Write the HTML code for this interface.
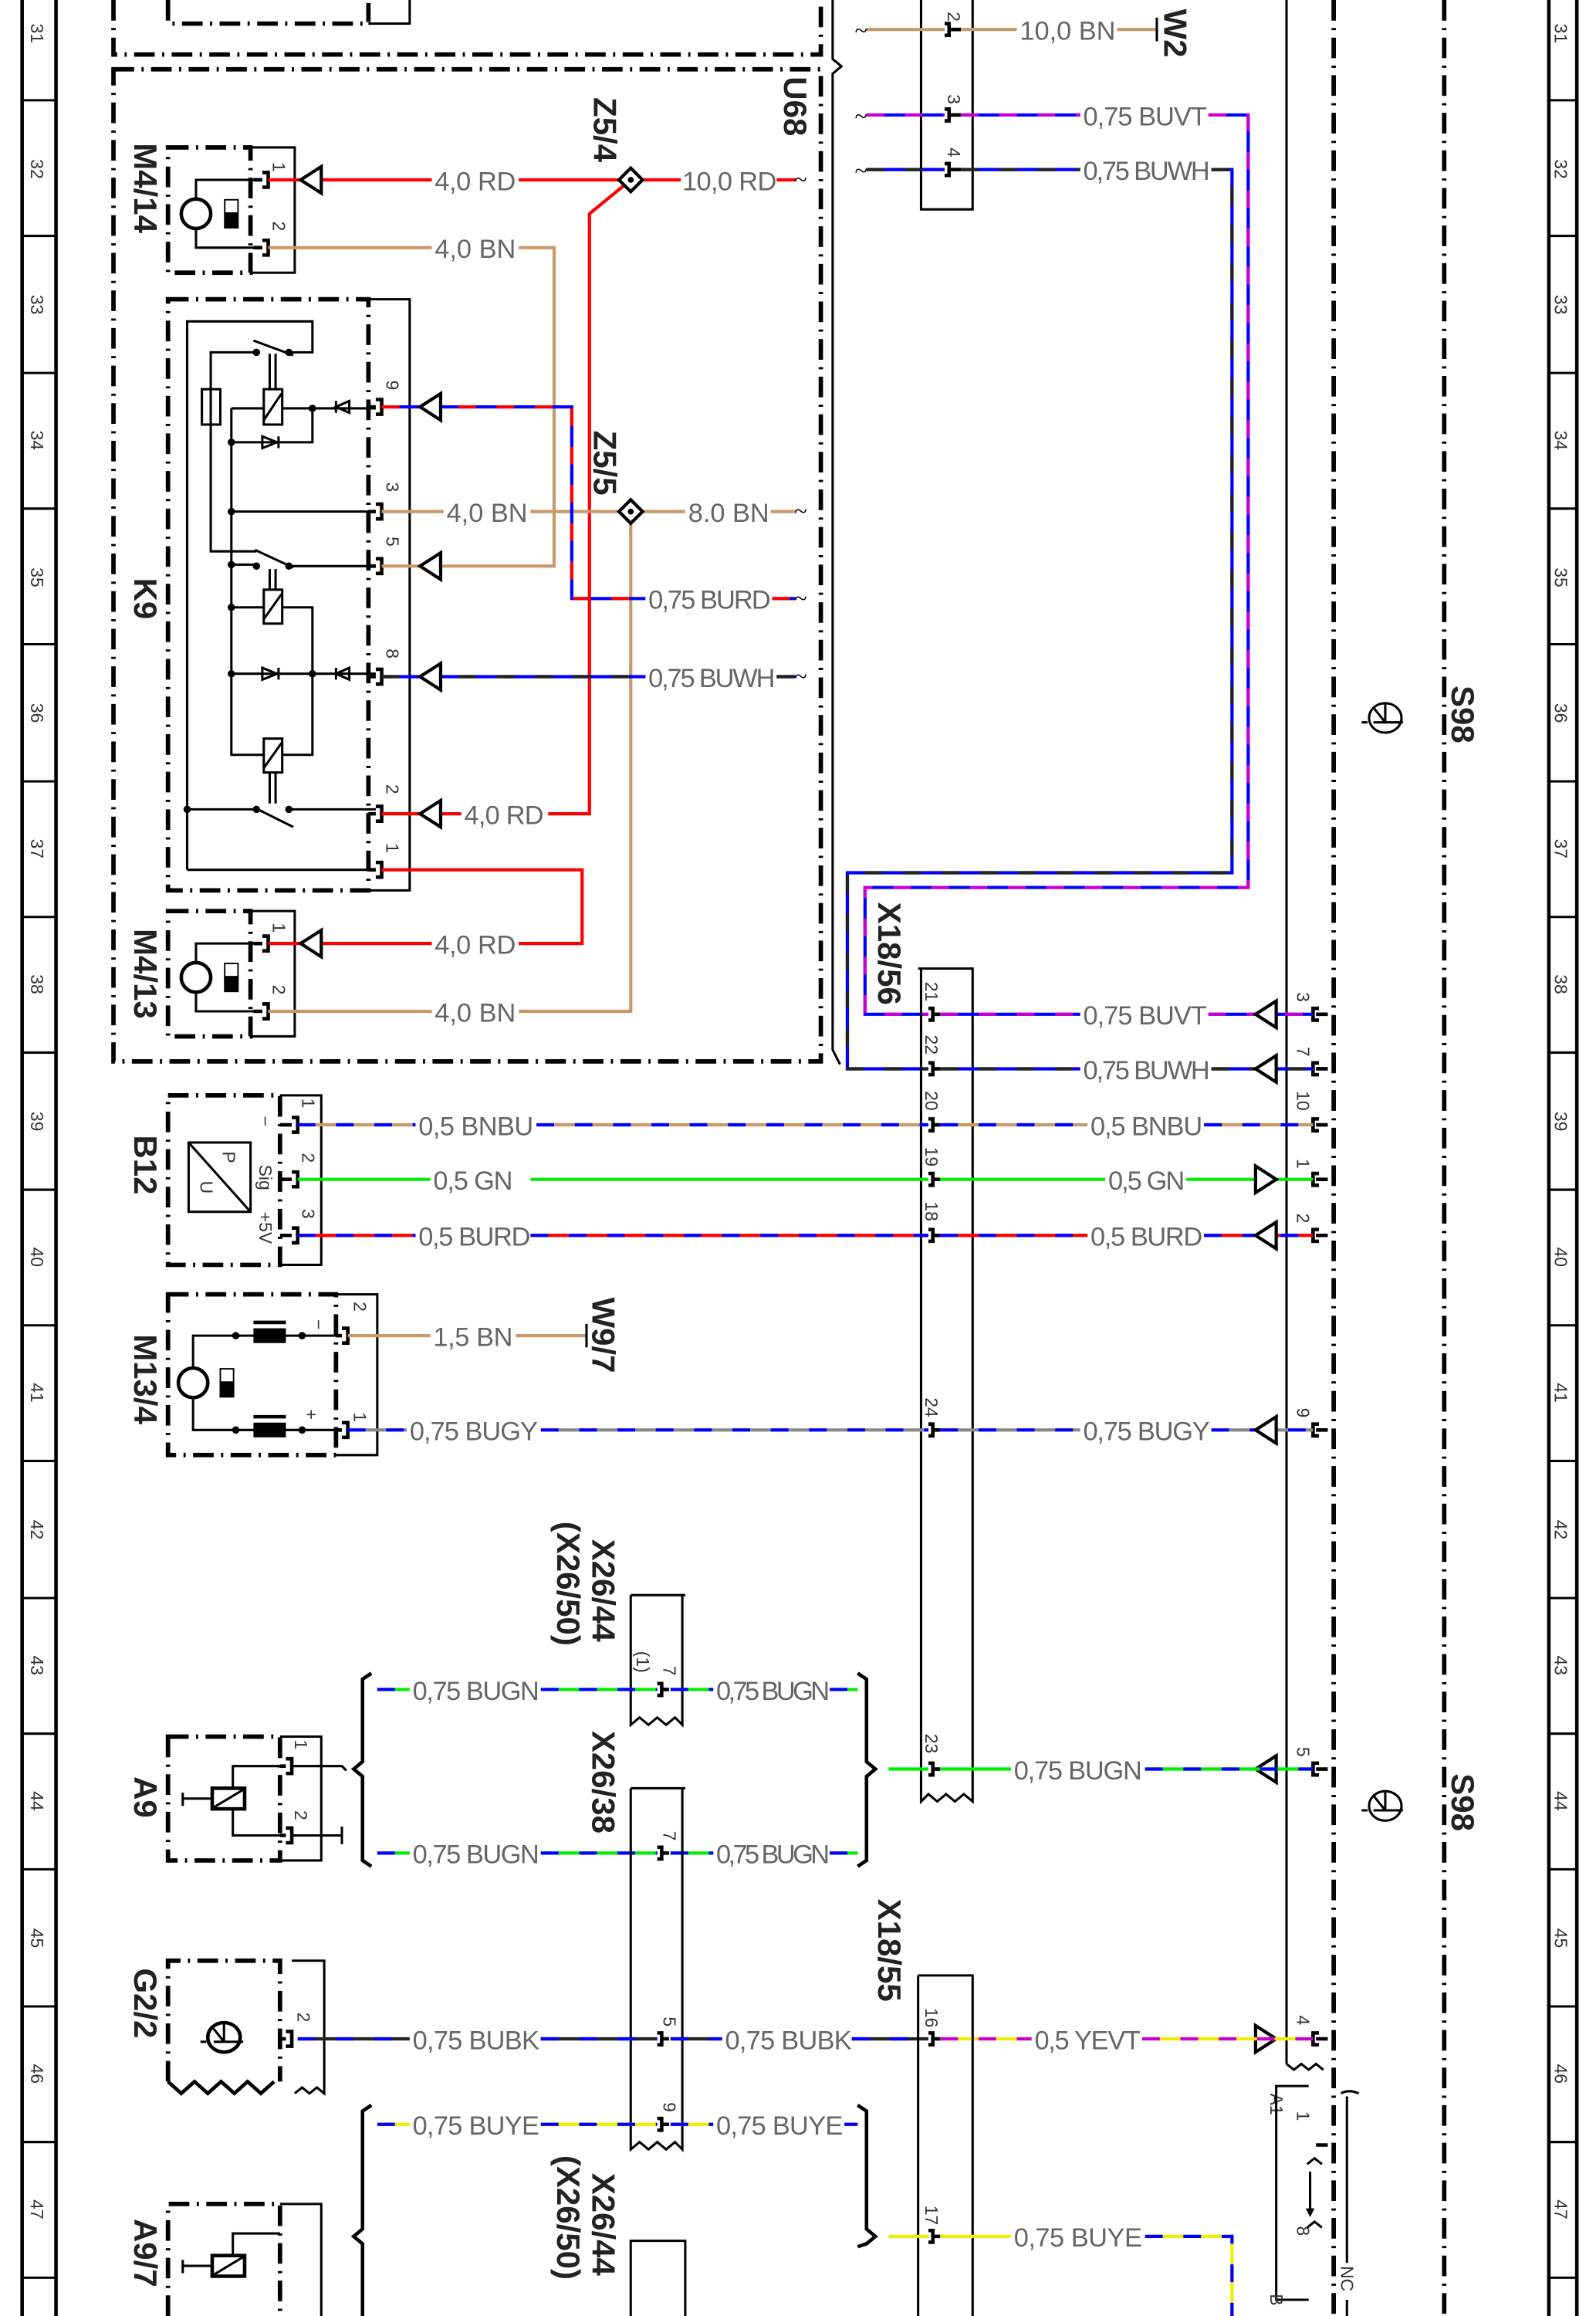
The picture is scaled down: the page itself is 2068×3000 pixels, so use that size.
<!DOCTYPE html>
<html><head><meta charset="utf-8"><style>
html,body{margin:0;padding:0;background:#fff;}
svg{display:block}
.k{stroke:#000;stroke-width:1.6;fill:none}
.kt{stroke:#000;stroke-width:2.4;fill:none}
.dd{stroke:#000;stroke-width:3;fill:none;stroke-dasharray:14 5 1.5 5}
.w{fill:none;stroke-width:2.2}
.ov{fill:none;stroke-width:2.2;stroke-dasharray:12 14}
.RD{stroke:#f00}.BN{stroke:#c9996b}.BU{stroke:#00f}.VT{stroke:#c0c}.GN{stroke:#0e0}.YE{stroke:#ee0}.GY{stroke:#888}.BK{stroke:#222}
.l{font-family:"Liberation Sans",sans-serif;font-size:18px;fill:#666}
.n{font-family:"Liberation Sans",sans-serif;font-size:12px;fill:#333}
.c{font-family:"Liberation Sans",sans-serif;font-size:22px;font-weight:bold;fill:#222}
.tri{fill:#fff;stroke:#000;stroke-width:2.2}
</style></head><body>
<svg width="2068" height="3000" viewBox="0 0 1083 1571" preserveAspectRatio="none" xmlns="http://www.w3.org/2000/svg">
<g class="kt">
<line x1="15" y1="0" x2="15" y2="1571"/><line x1="38" y1="0" x2="38" y2="1571"/>
<line x1="1051" y1="0" x2="1051" y2="1571"/><line x1="1070" y1="0" x2="1070" y2="1571"/>
</g>
<g class="k">
<path d="M15 68H38M15 160H38M15 253H38M15 345H38M15 437H38M15 530H38M15 622H38M15 714H38M15 807H38M15 899H38M15 991H38M15 1084H38M15 1176H38M15 1268H38M15 1361H38M15 1453H38M15 1545H38"/>
<path d="M1051 68H1070M1051 160H1070M1051 253H1070M1051 345H1070M1051 437H1070M1051 530H1070M1051 622H1070M1051 714H1070M1051 807H1070M1051 899H1070M1051 991H1070M1051 1084H1070M1051 1176H1070M1051 1268H1070M1051 1361H1070M1051 1453H1070M1051 1545H1070"/>
</g>
<g class="n" font-size="13">
<text transform="translate(21,16) rotate(90)">31</text><text transform="translate(21,108) rotate(90)">32</text><text transform="translate(21,200) rotate(90)">33</text><text transform="translate(21,292) rotate(90)">34</text><text transform="translate(21,385) rotate(90)">35</text><text transform="translate(21,477) rotate(90)">36</text><text transform="translate(21,569) rotate(90)">37</text><text transform="translate(21,661) rotate(90)">38</text><text transform="translate(21,754) rotate(90)">39</text><text transform="translate(21,846) rotate(90)">40</text><text transform="translate(21,938) rotate(90)">41</text><text transform="translate(21,1031) rotate(90)">42</text><text transform="translate(21,1123) rotate(90)">43</text><text transform="translate(21,1215) rotate(90)">44</text><text transform="translate(21,1308) rotate(90)">45</text><text transform="translate(21,1400) rotate(90)">46</text><text transform="translate(21,1492) rotate(90)">47</text>
<text transform="translate(1055,16) rotate(90)">31</text><text transform="translate(1055,108) rotate(90)">32</text><text transform="translate(1055,200) rotate(90)">33</text><text transform="translate(1055,292) rotate(90)">34</text><text transform="translate(1055,385) rotate(90)">35</text><text transform="translate(1055,477) rotate(90)">36</text><text transform="translate(1055,569) rotate(90)">37</text><text transform="translate(1055,661) rotate(90)">38</text><text transform="translate(1055,754) rotate(90)">39</text><text transform="translate(1055,846) rotate(90)">40</text><text transform="translate(1055,938) rotate(90)">41</text><text transform="translate(1055,1031) rotate(90)">42</text><text transform="translate(1055,1123) rotate(90)">43</text><text transform="translate(1055,1215) rotate(90)">44</text><text transform="translate(1055,1308) rotate(90)">45</text><text transform="translate(1055,1400) rotate(90)">46</text><text transform="translate(1055,1492) rotate(90)">47</text>
</g>
<line class="dd" x1="905" y1="0" x2="905" y2="1571"/>
<line class="dd" x1="980" y1="0" x2="980" y2="1571"/>
<line class="k" x1="873" y1="0" x2="873" y2="1400"/>
<path class="k" d="M873 1400 l5 4 l5 -4 l5 4 l5 -4 l5 4"/>
<path class="dd" d="M77 0V37H557V0"/>
<path class="dd" d="M114 0V16H250V2"/>
<path class="k" d="M250 16H278V0"/>
<path class="dd" d="M77 47H557V720H77Z"/>
<path class="k" d="M565 0V40l6 5l-6 5V712l5 10"/>
<text class="c" transform="translate(532,52) rotate(90)">U68</text>
<path class="k" d="M625 0V142H660V0"/>
<text class="n" transform="translate(643,8) rotate(90)">2</text><text class="n" transform="translate(643,64) rotate(90)">3</text><text class="n" transform="translate(643,100) rotate(90)">4</text>
<path class="kt" d="M644 20h8M641 16h3v8h-3M644 78h8M641 74h3v8h-3M644 115h8M641 111h3v8h-3"/>
<line class="w BN" x1="588" y1="20" x2="641" y2="20"/><line class="w BN" x1="652" y1="20" x2="690" y2="20"/><line class="w BN" x1="758" y1="20" x2="785" y2="20"/>
<path class="k" d="M785 12V28"/><text class="c" transform="translate(790,6) rotate(90)">W2</text>
<path class="w BU" d="M588 78H641M652 78H733M820 78H847V602H587V688H630"/><path class="ov VT" d="M588 78H641M652 78H733M820 78H847V602H587V688H630"/>
<path class="w BU" d="M588 115H641M652 115H733M822 115H836V592H575V725H630"/><path class="ov BK" d="M588 115H641M652 115H733M822 115H836V592H575V725H630"/>
<text class="l" x="692" y="27" textLength="65">10,0 BN</text>
<text class="l" x="735" y="85" textLength="84">0,75 BUVT</text>
<text class="l" x="735" y="122" textLength="86">0,75 BUWH</text>
<text x="580" y="26" font-size="16">~</text><text x="580" y="84" font-size="16">~</text><text x="580" y="121" font-size="16">~</text>
<rect class="dd" x="114" y="100" width="56" height="85"/>
<path class="k" d="M170 100H200V185H170"/>
<circle class="kt" cx="133" cy="145" r="10"/><rect x="152" y="135" width="10" height="20" fill="#000"/><rect x="153" y="136" width="8" height="8" fill="#fff"/>
<path class="k" d="M133 135V122H178M133 155V168H178"/>
<path class="kt" d="M172 122h6M178 117h4v10h-4M172 168h6M178 163h4v10h-4"/>
<text class="n" transform="translate(185,110) rotate(90)">1</text><text class="n" transform="translate(185,150) rotate(90)">2</text>
<text class="c" transform="translate(91,97) rotate(90)">M4/14</text>
<rect class="dd" x="114" y="203" width="136" height="401"/>
<path class="k" d="M250 203H278V604H250"/>
<g class="k" stroke-width="1.8">
<path d="M127 590V218H212V239H196M174 239H143V374H174"/>
<path d="M172 231L199 241M173 373L199 385M173 548L199 561"/>
<rect x="137" y="264" width="12.5" height="24"/>
<rect x="179" y="264" width="12.5" height="24"/><path d="M179 285L191 267"/>
<rect x="179" y="400" width="12.5" height="23"/><path d="M179 420L191 403"/>
<rect x="179" y="501" width="12.5" height="23"/><path d="M179 521L191 504"/>
<path d="M157 277V512H179M191 512H212V412H191M179 412H157M157 277H179M191 277H255M157 300H212V277M157 347H255M157 383H174M196 384H255M157 457H255M127 549H174M196 549H255M127 590H255"/>
<path d="M183 264V240M187 264V240M183 400V386M187 400V386M183 524V545M187 524V545"/>
<path d="M178 296L188 300L178 304ZM189 296V304M178 453L188 457L178 461ZM189 453V461M237 272L228 276L237 280ZM228 272V280M237 453L228 457L237 461ZM228 453V461"/>
</g>
<g fill="#000"><circle cx="174" cy="239" r="2.5"/><circle cx="196" cy="239" r="2.5"/><circle cx="212" cy="277" r="2.5"/><circle cx="157" cy="300" r="2.5"/><circle cx="157" cy="347" r="2.5"/><circle cx="157" cy="383" r="2.5"/><circle cx="174" cy="384" r="2.5"/><circle cx="196" cy="384" r="2.5"/><circle cx="157" cy="412" r="2.5"/><circle cx="157" cy="457" r="2.5"/><circle cx="212" cy="457" r="2.5"/><circle cx="127" cy="549" r="2.5"/><circle cx="174" cy="549" r="2.5"/><circle cx="196" cy="549" r="2.5"/></g>
<path class="kt" d="M250 276h5M255 271h4v10h-4M250 347h5M255 342h4v10h-4M250 384h5M255 379h4v10h-4M250 459h5M255 454h4v10h-4M250 552h5M255 547h4v10h-4M250 590h5M255 585h4v10h-4"/>
<text class="n" transform="translate(262,258) rotate(90)">9</text><text class="n" transform="translate(262,327) rotate(90)">3</text><text class="n" transform="translate(262,364) rotate(90)">5</text><text class="n" transform="translate(262,440) rotate(90)">8</text><text class="n" transform="translate(262,532) rotate(90)">2</text><text class="n" transform="translate(262,572) rotate(90)">1</text>
<text class="c" transform="translate(91,392) rotate(90)">K9</text>
<rect class="dd" x="114" y="618" width="56" height="85"/>
<path class="k" d="M170 618H200V703H170"/>
<circle class="kt" cx="133" cy="663" r="10"/><rect x="152" y="653" width="10" height="20" fill="#000"/><rect x="153" y="654" width="8" height="8" fill="#fff"/>
<path class="k" d="M133 653V640H178M133 673V686H178"/>
<path class="kt" d="M172 640h6M178 635h4v10h-4M172 686h6M178 681h4v10h-4"/>
<text class="n" transform="translate(185,626) rotate(90)">1</text><text class="n" transform="translate(185,668) rotate(90)">2</text>
<text class="c" transform="translate(91,630) rotate(90)">M4/13</text>
<path class="w RD" d="M182 122H293M352 122H462M527 122H540M428 122L400 145V552H372M259 552H313M259 590H395V640H352M182 640H293"/>
<path class="w BN" d="M182 168H293M352 168H376V384H259M259 347H301M360 347H465M523 347H540M182 686H293M352 686H428V347"/>
<path class="w BU" d="M259 276H388V406H438M524 406H540"/><path class="ov RD" d="M259 276H388V406H438M524 406H540"/>
<path class="w BU" d="M259 459H438M527 459H540"/><path class="ov BK" d="M259 459H438M527 459H540" stroke-dasharray="30 40"/>
<text font-size="16" x="539" y="127">~</text><text font-size="16" x="539" y="352">~</text><text font-size="16" x="539" y="411">~</text><text font-size="16" x="539" y="464">~</text>
<path d="M428 114L436 122L428 130L420 122Z" fill="#fff" stroke="#000" stroke-width="2.2"/><circle cx="428" cy="122" r="2" fill="#000"/>
<path d="M428 339L436 347L428 355L420 347Z" fill="#fff" stroke="#000" stroke-width="2.2"/><circle cx="428" cy="347" r="2" fill="#000"/>
<text class="c" transform="translate(403,66) rotate(90)">Z5/4</text>
<text class="c" transform="translate(403,292) rotate(90)">Z5/5</text>
<text class="l" x="295" y="129" textLength="55">4,0 RD</text><text class="l" x="463" y="129" textLength="64">10,0 RD</text>
<text class="l" x="295" y="175" textLength="55">4,0 BN</text>
<text class="l" x="303" y="354" textLength="55">4,0 BN</text><text class="l" x="467" y="354" textLength="55">8.0 BN</text>
<text class="l" x="440" y="413" textLength="83">0,75 BURD</text>
<text class="l" x="440" y="466" textLength="86">0,75 BUWH</text>
<text class="l" x="315" y="559" textLength="54">4,0 RD</text>
<text class="l" x="295" y="647" textLength="55">4,0 RD</text>
<text class="l" x="295" y="693" textLength="55">4,0 BN</text>
<g class="tri"><polygon points="204,122 218,113 218,131"/><polygon points="285,276 299,267 299,285"/><polygon points="285,384 299,375 299,393"/><polygon points="285,459 299,450 299,468"/><polygon points="285,552 299,543 299,561"/><polygon points="204,640 218,631 218,649"/></g>
<path class="k" d="M623 657H660V1222l-6 -5l-6 5l-6 -5l-6 5l-6 -5l-5 5V657"/>
<text class="c" transform="translate(596,612) rotate(90)">X18/56</text>
<g class="n"><text transform="translate(628,666) rotate(90)">21</text><text transform="translate(628,702) rotate(90)">22</text><text transform="translate(628,740) rotate(90)">20</text><text transform="translate(628,778) rotate(90)">19</text><text transform="translate(628,815) rotate(90)">18</text><text transform="translate(628,948) rotate(90)">24</text><text transform="translate(628,1176) rotate(90)">23</text></g>
<path class="kt" d="M630 684h3v8h-3M633 688h5M630 721h3v8h-3M633 725h5M630 759h3v8h-3M633 763h5M630 796h3v8h-3M633 800h5M630 834h3v8h-3M633 838h5M630 966h3v8h-3M633 970h5M630 1196h3v8h-3M633 1200h5"/>
<path class="kt" d="M895 684h-4v8h4M893 688h8M895 721h-4v8h4M893 725h8M895 759h-4v8h4M893 763h8M895 796h-4v8h4M893 800h8M895 834h-4v8h4M893 838h8M895 966h-4v8h4M893 970h8M895 1196h-4v8h4M893 1200h8M895 1379h-4v8h4M893 1383h8"/>
<g class="n"><text transform="translate(880,673) rotate(90)">3</text><text transform="translate(880,710) rotate(90)">7</text><text transform="translate(880,740) rotate(90)">10</text><text transform="translate(880,786) rotate(90)">1</text><text transform="translate(880,823) rotate(90)">2</text><text transform="translate(880,955) rotate(90)">9</text><text transform="translate(880,1185) rotate(90)">5</text><text transform="translate(880,1367) rotate(90)">4</text></g>
<path class="w BU" d="M638 688H733M820 688H891"/><path class="ov VT" d="M638 688H733M820 688H891"/>
<path class="w BU" d="M638 725H733M822 725H891"/><path class="ov BK" d="M638 725H733M822 725H891"/>
<text class="l" x="735" y="695" textLength="84">0,75 BUVT</text>
<text class="l" x="735" y="732" textLength="86">0,75 BUWH</text>
<rect class="dd" x="114" y="743" width="76" height="115"/>
<path class="k" d="M190 743H218V858H190"/>
<rect class="k" x="128" y="775" width="42" height="47"/><path class="k" d="M128 775L170 822"/>
<text class="n" font-size="12" transform="translate(151,781) rotate(90)">P</text><text class="n" font-size="12" transform="translate(136,801) rotate(90)">U</text>
<path class="kt" d="M190 763h8M198 758h4v10h-4M190 800h8M198 795h4v10h-4M190 838h8M198 833h4v10h-4"/>
<text class="n" font-size="11" transform="translate(176,757) rotate(90)">−</text><text class="n" font-size="11" transform="translate(176,790) rotate(90)">Sig</text><text class="n" font-size="11" transform="translate(176,822) rotate(90)">+5V</text>
<text class="n" transform="translate(205,745) rotate(90)">1</text><text class="n" transform="translate(205,782) rotate(90)">2</text><text class="n" transform="translate(205,820) rotate(90)">3</text>
<text class="c" transform="translate(91,770) rotate(90)">B12</text>
<path class="w BN" d="M202 763H282M364 763H630M638 763H738M817 763H891"/><path class="ov BU" d="M202 763H282M364 763H630M638 763H738M817 763H891"/>
<path class="w GN" d="M202 800H292M360 800H630M638 800H750M805 800H891"/>
<path class="w RD" d="M202 838H282M360 838H630M638 838H738M817 838H891"/><path class="ov BU" d="M202 838H282M360 838H630M638 838H738M817 838H891"/>
<text class="l" x="284" y="770" textLength="78">0,5 BNBU</text><text class="l" x="740" y="770" textLength="76">0,5 BNBU</text>
<text class="l" x="294" y="807" textLength="54">0,5 GN</text><text class="l" x="752" y="807" textLength="52">0,5 GN</text>
<text class="l" x="284" y="845" textLength="76">0,5 BURD</text><text class="l" x="740" y="845" textLength="76">0,5 BURD</text>
<rect class="dd" x="114" y="878" width="114" height="109"/>
<path class="k" d="M228 878H256V987H228"/>
<circle class="kt" cx="131" cy="938" r="10"/><rect x="149" y="928" width="10" height="20" fill="#000"/><rect x="150" y="929" width="8" height="8" fill="#fff"/>
<path class="k" d="M131 928V906H232M131 948V970H232"/>
<rect x="172" y="901" width="22" height="10" fill="#000"/><rect x="172" y="965" width="22" height="10" fill="#000"/><path class="kt" d="M172 897H194M172 961H194"/>
<circle cx="160" cy="906" r="2.5"/><circle cx="205" cy="906" r="2.5"/><circle cx="160" cy="970" r="2.5"/><circle cx="205" cy="970" r="2.5"/>
<text class="n" transform="translate(212,895) rotate(90)">−</text><text class="n" transform="translate(207,956) rotate(90)">+</text>
<path class="kt" d="M228 906h4M232 901h4v10h-4M228 970h4M232 965h4v10h-4"/>
<text class="n" transform="translate(240,883) rotate(90)">2</text><text class="n" transform="translate(240,958) rotate(90)">1</text>
<text class="c" transform="translate(91,905) rotate(90)">M13/4</text>
<path class="w BN" d="M236 906H292M350 906H398"/><path class="k" d="M398 898V914"/>
<text class="c" transform="translate(402,880) rotate(90)">W9/7</text>
<text class="l" x="294" y="913" textLength="54">1,5 BN</text>
<path class="w GY" d="M236 970H276M367 970H630M638 970H733M822 970H891"/><path class="ov BU" d="M236 970H276M367 970H630M638 970H733M822 970H891"/>
<text class="l" x="278" y="977" textLength="87">0,75 BUGY</text><text class="l" x="735" y="977" textLength="86">0,75 BUGY</text>
<g class="tri"><polygon points="852,688 866,679 866,697"/><polygon points="852,725 866,716 866,734"/><polygon points="866,800 852,791 852,809"/><polygon points="852,838 866,829 866,847"/><polygon points="852,970 866,961 866,979"/><polygon points="852,1200 866,1191 866,1209"/><polygon points="866,1383 852,1374 852,1392"/></g>
<path class="k" d="M428 1082H465M428 1082V1170l6 -5l6 5l6 -5l6 5l6 -5l5 5V1082"/>
<text class="c" transform="translate(402,1044) rotate(90)">X26/44</text><text class="c" transform="translate(378,1032) rotate(90)">(X26/50)</text>
<text class="n" transform="translate(432,1120) rotate(90)">(1)</text><text class="n" transform="translate(450,1130) rotate(90)">7</text>
<path class="kt" d="M446 1142h3v8h-3M449 1146h5"/>
<rect class="dd" x="114" y="1178" width="76" height="84"/>
<path class="k" d="M190 1178H218V1262H190"/>
<rect class="kt" x="144" y="1213" width="22" height="14"/><path class="k" d="M145 1226L165 1214M124 1216V1225M124 1220H144M190 1198H158V1213M190 1245H158V1227"/>
<path class="kt" d="M190 1198h4M194 1193h4v10h-4M190 1245h4M194 1240h4v10h-4"/>
<text class="n" transform="translate(200,1180) rotate(90)">1</text><text class="n" transform="translate(200,1228) rotate(90)">2</text>
<path class="k" d="M198 1198H232l3 3M198 1245H232M232 1239V1251"/>
<text class="c" transform="translate(91,1205) rotate(90)">A9</text>
<path class="kt" d="M252 1135l-6 4V1195l-6 5l6 5V1262l6 4"/>
<path class="kt" d="M582 1135l6 4V1195l6 5l-6 5V1262l-6 4"/>
<path class="w GN" d="M256 1146H278M367 1146H446M455 1146H484M563 1146H582"/><path class="ov BU" d="M256 1146H278M367 1146H446M455 1146H484M563 1146H582" stroke-dasharray="30 30"/>
<path class="w GN" d="M256 1257H278M367 1257H446M455 1257H484M563 1257H582"/><path class="ov BU" d="M256 1257H278M367 1257H446M455 1257H484M563 1257H582" stroke-dasharray="30 30"/>
<path class="w GN" d="M603 1200H630M638 1200H686M777 1200H891"/><path class="ov BU" d="M777 1200H891" stroke-dasharray="24 24"/>
<text class="l" x="280" y="1153" textLength="86">0,75 BUGN</text><text class="l" x="486" y="1153" textLength="77">0,75 BUGN</text>
<text class="l" x="280" y="1264" textLength="86">0,75 BUGN</text><text class="l" x="486" y="1264" textLength="77">0,75 BUGN</text>
<text class="l" x="688" y="1207" textLength="87">0,75 BUGN</text>
<path class="k" d="M428 1213H465M428 1213V1458l6 -5l6 5l6 -5l6 5l6 -5l5 5V1213"/>
<text class="c" transform="translate(402,1174) rotate(90)">X26/38</text>
<text class="n" transform="translate(450,1242) rotate(90)">7</text><text class="n" transform="translate(450,1368) rotate(90)">5</text><text class="n" transform="translate(450,1426) rotate(90)">9</text>
<path class="kt" d="M446 1253h3v8h-3M449 1257h5M446 1379h3v8h-3M449 1383h5M446 1437h3v8h-3M449 1441h5"/>
<path class="dd" d="M114 1412V1330H190V1412"/>
<path class="kt" d="M114 1412l9 8l9 -8l9 8l9 -8l9 8l9 -8l9 8l9 -8"/>
<path class="k" d="M198 1330H220V1420l-5 -4l-5 4l-5 -4l-5 4"/>
<ellipse class="kt" cx="152" cy="1382" rx="11" ry="10"/><path class="k" d="M145 1385H165M152 1372V1385M144 1375L152 1385M140 1385h-4"/>
<path class="kt" d="M190 1383h4M194 1378h4v10h-4"/>
<text class="n" transform="translate(202,1365) rotate(90)">2</text>
<text class="c" transform="translate(91,1335) rotate(90)">G2/2</text>
<path class="w BK" d="M202 1383H278M367 1383H446M455 1383H490M578 1383H630"/><path class="ov BU" d="M202 1383H278M367 1383H446M455 1383H490M578 1383H630" stroke-dasharray="30 30"/>
<path class="w YE" d="M638 1383H700M775 1383H891"/><path class="ov VT" d="M638 1383H700M775 1383H891" stroke-dasharray="20 25"/>
<text class="l" x="280" y="1390" textLength="86">0,75 BUBK</text><text class="l" x="492" y="1390" textLength="86">0,75 BUBK</text>
<text class="l" x="702" y="1390" textLength="72">0,5 YEVT</text>
<path class="k" d="M623 1340H660V1571M623 1340V1571"/>
<text class="c" transform="translate(596,1288) rotate(90)">X18/55</text>
<text class="n" transform="translate(628,1362) rotate(90)">16</text><text class="n" transform="translate(628,1496) rotate(90)">17</text>
<path class="kt" d="M630 1379h3v8h-3M633 1383h5M630 1513h3v8h-3M633 1517h5"/>
<path class="kt" d="M252 1428l-6 4V1512l-6 5l6 5V1571"/>
<path class="kt" d="M582 1428l6 4V1512l6 5l-6 5l-6 2"/>
<path class="w YE" d="M256 1441H278M367 1441H446M455 1441H484M573 1441H582"/><path class="ov BU" d="M256 1441H278M367 1441H446M455 1441H484M573 1441H582" stroke-dasharray="30 30"/>
<path class="w YE" d="M603 1517H630M638 1517H686M777 1517H836V1571"/><path class="ov BU" d="M777 1517H836V1571" stroke-dasharray="24 24"/>
<text class="l" x="280" y="1448" textLength="86">0,75 BUYE</text><text class="l" x="486" y="1448" textLength="86">0,75 BUYE</text>
<text class="l" x="688" y="1524" textLength="87">0,75 BUYE</text>
<text class="c" transform="translate(402,1474) rotate(90)">X26/44</text><text class="c" transform="translate(378,1462) rotate(90)">(X26/50)</text>
<path class="k" d="M428 1571V1520H465V1571"/>
<path class="dd" d="M114 1571V1495H190V1571"/><path class="k" d="M190 1495H218V1571"/>
<rect class="kt" x="144" y="1530" width="22" height="14"/><path class="k" d="M145 1543L165 1531M124 1533V1542M124 1537H144M190 1515H158V1530"/>
<text class="c" transform="translate(91,1505) rotate(90)">A9/7</text>
<text class="n" font-size="16" transform="translate(862,1420) rotate(90)">A1</text>
<path class="k" d="M888 1415H866V1560H888"/>
<path class="kt" d="M893 1455h8M893 1583h8"/>
<text class="n" transform="translate(880,1432) rotate(90)">1</text><text class="n" transform="translate(880,1510) rotate(90)">8</text>
<path class="k" d="M887 1468l5 -4l5 4M887 1511l5 -4l5 4M889 1473V1500"/><path d="M886 1498l3 6l3 -6Z"/>
<path class="k" d="M910 1420q5 -3 12 0M914 1422V1535M914 1560V1571"/>
<text class="n" font-size="14" transform="translate(910,1537) rotate(90)">NC</text>
<text class="n" font-size="16" transform="translate(862,1556) rotate(90)">B</text>
<text class="c" transform="translate(985,465) rotate(90)">S98</text>
<text class="c" transform="translate(985,1203) rotate(90)">S98</text>
<g class="k" stroke-width="2"><ellipse cx="940" cy="487" rx="11" ry="10"/><path d="M932 490H952M940 477V490M932 480L940 490M928 490h-4"/>
<ellipse cx="940" cy="1225" rx="11" ry="10"/><path d="M932 1228H952M940 1215V1228M932 1218L940 1228M928 1228h-4"/></g>
</svg>
</body></html>
